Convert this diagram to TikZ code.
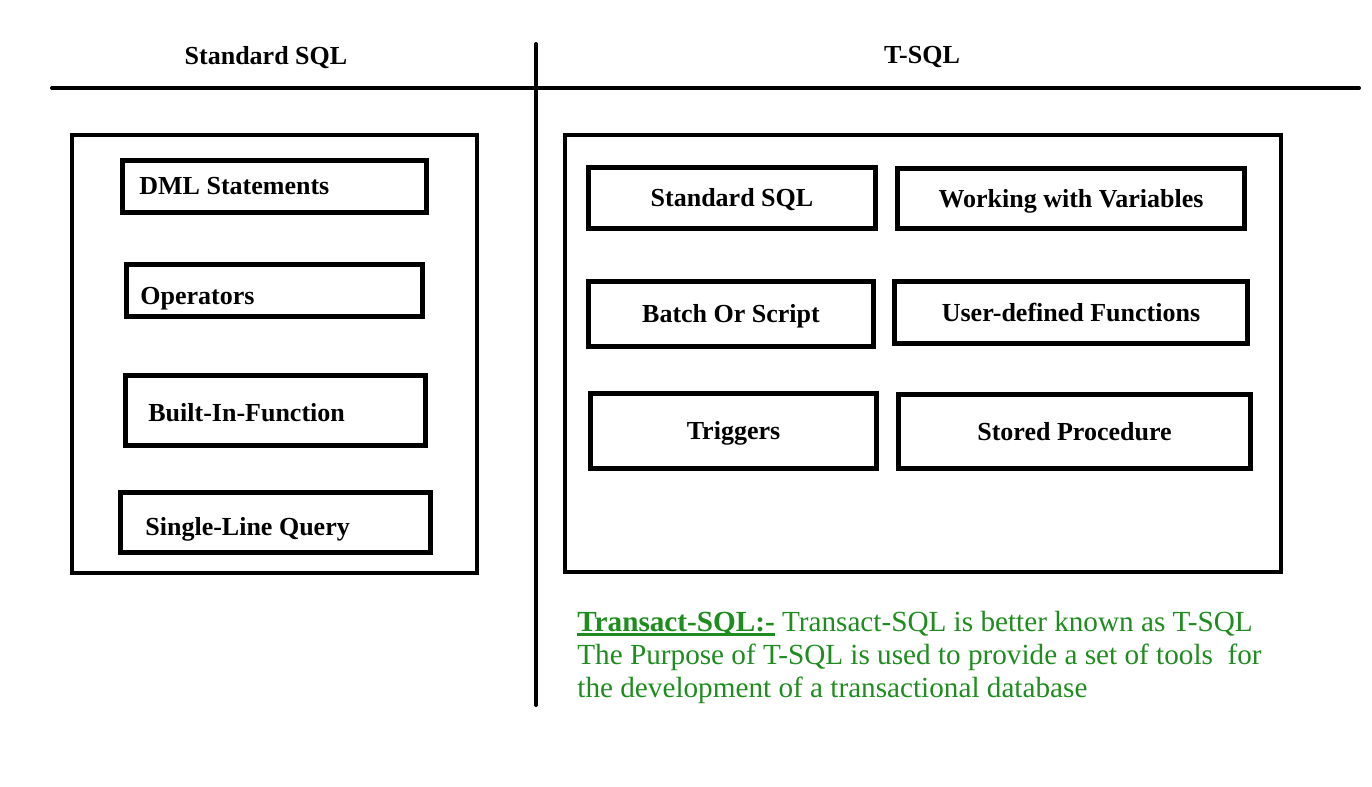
\documentclass[tikz,border=0pt]{standalone}
\usepackage{fontspec}
\setmainfont{Liberation Serif}
\definecolor{notegreen}{RGB}{30,140,30}
\newcommand{\thickul}[1]{\setbox0\hbox{#1}\rlap{\rule[-2pt]{\wd0}{1.3pt}}\box0\relax}

\begin{document}
\begin{tikzpicture}[
  x=0.5pt,y=-0.5pt,
  rule/.style={line width=2pt,line cap=round},
  panel/.style={draw,line width=2pt,inner sep=0pt},
  item/.style={draw,line width=2.5pt,inner sep=0pt,text height=9pt,text depth=0.4pt,font=\fontsize{13}{15}\selectfont\bfseries},
  itemtext/.style={anchor=west,inner sep=0pt,text height=9pt,text depth=0.4pt,font=\fontsize{13}{15}\selectfont\bfseries},
  head/.style={font=\fontsize{13}{15}\selectfont\bfseries},
  note/.style={anchor=north west,inner sep=0pt,align=left,text=notegreen,font=\fontsize{14.6}{16.5}\selectfont}
]
  \useasboundingbox (0,0) rectangle (1372,787);

  % dividing lines
  \coordinate (hl) at (52,88);
  \coordinate (hr) at (1359,88);
  \coordinate (vt) at (536,44);
  \coordinate (vb) at (536,705);
  \draw[rule] (hl)--(hr);
  \draw[rule] (vt)--(vb);

  \node[head] (hstd) at (266,58) {Standard SQL};
  \node[head] (htsql) at (922,57) {T-SQL};

  % left column
  \node[panel,minimum width=202.5pt,minimum height=219pt] (lpanel) at (274.5,354) {};
  \node[item,minimum width=152pt,minimum height=26pt] (dml) at (274.5,186.5) {};
  \node[item,minimum width=148pt,minimum height=26pt] (ops) at (274.5,290.5) {};
  \node[item,minimum width=150pt,minimum height=35pt] (bif) at (275.5,410.5) {};
  \node[item,minimum width=155pt,minimum height=30pt] (slq) at (275.5,522.5) {};
  \node[itemtext] (dmlt) at (139,186) {DML Statements};
  \node[itemtext] (opst) at (140,296) {Operators};
  \node[itemtext] (bift) at (148,413) {Built-In-Function};
  \node[itemtext] (slqt) at (145,527) {Single-Line Query};

  % right column
  \node[panel,minimum width=358pt,minimum height=218.5pt] (rpanel) at (923,353.5) {};
  \node[item,minimum width=143.5pt,minimum height=30.5pt] (std) at (732,198) {Standard SQL};
  \node[item,minimum width=173.5pt,minimum height=30pt] (vars) at (1071,198.5) {Working with Variables};
  \node[item,minimum width=142.5pt,minimum height=32.5pt] (batch) at (731,314) {Batch Or Script};
  \node[item,minimum width=176.5pt,minimum height=31pt] (udf) at (1071,312.5) {User-defined Functions};
  \node[item,minimum width=143pt,minimum height=37.5pt] (trig) at (733.5,431) {Triggers};
  \node[item,minimum width=176pt,minimum height=37pt] (sproc) at (1074.5,431.5) {Stored Procedure};

  \node[note] (tnote) at (577,611) {\thickul{\textbf{Transact-SQL:-}} Transact-SQL is better known as T-SQL\\
    The Purpose of T-SQL is used to provide a set of tools\ \ for\\
    the development of a transactional database};
\end{tikzpicture}
\end{document}
